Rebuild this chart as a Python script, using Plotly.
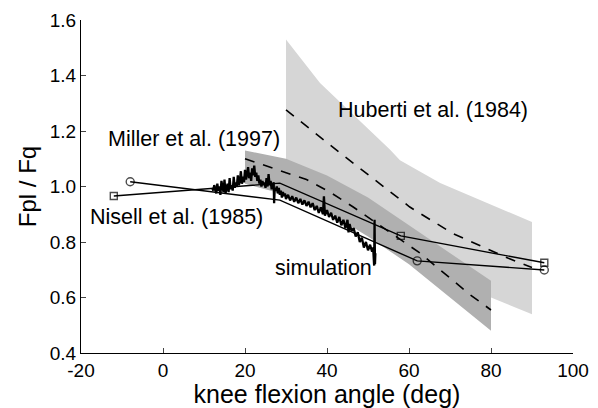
import plotly.graph_objects as go

# ---- data ----
# Huberti et al. (1984) band and mean
hub_up_x = [30, 38.3, 55.4, 57.8, 67.6, 77.3, 90]
hub_up_y = [1.53, 1.373, 1.132, 1.095, 1.013, 0.951, 0.872]
hub_lo_x = [30, 43, 60, 70, 80, 90]
hub_lo_y = [1.02, 0.94, 0.77, 0.67, 0.60, 0.54]
hub_mean_x = [30, 43.2, 60.2, 70.5, 84.1, 90]
hub_mean_y = [1.276, 1.121, 0.926, 0.832, 0.742, 0.708]

# Miller et al. (1997) band and mean
mil_up_x = [20, 30, 40, 50, 60, 70, 80]
mil_up_y = [1.13, 1.10, 1.04, 0.96, 0.86, 0.76, 0.66]
mil_lo_x = [20, 30, 40, 50, 60, 70, 80]
mil_lo_y = [1.01, 0.97, 0.91, 0.82, 0.72, 0.60, 0.48]
mil_mean_x = [20, 29, 35, 40.7, 46.3, 62.7, 69.3, 74.9, 80]
mil_mean_y = [1.10, 1.055, 1.025, 0.98, 0.927, 0.76, 0.68, 0.61, 0.555]

# circle-marked data
circ_x = [-8, 28.5, 62, 93]
circ_y = [1.017, 0.951, 0.732, 0.699]
circ_size = [8, 0, 8, 8]

# square-marked data
sq_x = [-12, 28.5, 58, 93]
sq_y = [0.966, 1.012, 0.822, 0.725]
sq_size = [7, 0, 7, 7]

# simulation
sim_x = [12.00, 12.25, 12.50, 12.75, 13.00, 13.25, 13.50, 13.75, 14.00, 14.25,
         14.50, 14.75, 15.00, 15.25, 15.50, 15.75, 16.00, 16.25, 16.50, 16.75,
         17.00, 17.25, 17.50, 17.75, 18.00, 18.25, 18.50, 18.75, 19.00, 19.25,
         19.50, 19.75, 20.00, 20.25, 20.50, 20.75, 21.00, 21.25, 21.50, 21.75,
         22.00, 22.25, 22.50, 22.75, 23.00, 23.25, 23.50, 23.75, 24.00, 24.25,
         24.50, 24.75, 25.00, 25.25, 25.50, 25.75, 26.00, 26.25, 26.50, 26.75,
         27.00, 27.10, 27.25, 27.50, 27.75, 28.00, 28.25, 28.50, 28.75, 29.00,
         29.25, 29.50, 29.75, 30.00, 30.50, 31.00, 31.50, 32.00, 32.50, 33.00,
         33.50, 34.00, 34.50, 35.00, 35.50, 36.00, 36.50, 37.00, 37.50, 38.00,
         38.50, 39.00, 39.25, 39.50, 40.00, 40.50, 41.00, 41.50, 42.00, 42.50,
         43.00, 43.50, 44.00, 44.50, 45.00, 45.25, 45.50, 46.00, 46.50, 47.00,
         47.50, 48.00, 48.50, 49.00, 49.50, 50.00, 50.50, 51.00, 51.25, 51.50,
         51.60, 51.70, 51.80]
sim_y = [0.995, 0.985, 1.005, 0.990, 0.975, 1.010, 0.985, 1.000, 0.970, 1.020,
         0.990, 0.980, 1.025, 0.975, 0.995, 1.010, 0.980, 1.030, 0.990, 1.005,
         0.985, 1.035, 0.995, 1.015, 1.000, 1.040, 1.005, 1.020, 1.055, 1.010,
         1.035, 1.015, 1.060, 1.025, 1.045, 1.070, 1.030, 1.050, 1.020, 1.065,
         1.040, 1.075, 1.035, 1.050, 1.020, 1.040, 1.010, 1.025, 1.000, 1.020,
         1.005, 1.015, 0.995, 1.030, 1.000, 1.045, 1.005, 1.020, 0.990, 1.010,
         1.015, 0.940, 0.995, 0.985, 1.000, 0.975, 0.995, 0.970, 0.985, 0.960,
         0.980, 0.965, 0.975, 0.955, 0.970, 0.950, 0.965, 0.945, 0.960, 0.940,
         0.955, 0.935, 0.950, 0.930, 0.945, 0.925, 0.940, 0.915, 0.930, 0.905,
         0.925, 0.900, 0.965, 0.895, 0.915, 0.890, 0.905, 0.880, 0.895, 0.870,
         0.890, 0.860, 0.880, 0.850, 0.880, 0.835, 0.865, 0.840, 0.850, 0.820,
         0.835, 0.800, 0.815, 0.780, 0.800, 0.770, 0.790, 0.765, 0.780, 0.715,
         0.880, 0.720, 0.760]

x_ticks = [-20, 0, 20, 40, 60, 80, 100]
x_tick_text = ["-20", "0", "20", "40", "60", "80", "100"]
y_ticks = [0.4, 0.6, 0.8, 1.0, 1.2, 1.4, 1.6]
y_tick_text = ["0.4", "0.6", "0.8", "1.0", "1.2", "1.4", "1.6"]

FONT = "Arial, Liberation Sans, Helvetica, sans-serif"

fig = go.Figure()

# Huberti band
fig.add_trace(go.Scatter(
    x=hub_up_x + hub_lo_x[::-1], y=hub_up_y + hub_lo_y[::-1],
    fill="toself", fillcolor="rgb(214,214,214)", line=dict(width=0),
    mode="lines", hoverinfo="skip", showlegend=False))
# Miller band
fig.add_trace(go.Scatter(
    x=mil_up_x + mil_lo_x[::-1], y=mil_up_y + mil_lo_y[::-1],
    fill="toself", fillcolor="rgb(176,176,176)", line=dict(width=0),
    mode="lines", hoverinfo="skip", showlegend=False))
# mean dashed lines
fig.add_trace(go.Scatter(x=hub_mean_x, y=hub_mean_y, mode="lines",
                         line=dict(color="black", width=1.6, dash="10px,9px"),
                         showlegend=False))
fig.add_trace(go.Scatter(x=mil_mean_x, y=mil_mean_y, mode="lines",
                         line=dict(color="black", width=1.6, dash="10px,9px"),
                         showlegend=False))
# data lines
fig.add_trace(go.Scatter(x=circ_x, y=circ_y, mode="lines+markers",
                         line=dict(color="black", width=1.4),
                         marker=dict(symbol="circle-open", size=circ_size,
                                     color="black", line=dict(width=1.4)),
                         showlegend=False))
fig.add_trace(go.Scatter(x=sq_x, y=sq_y, mode="lines+markers",
                         line=dict(color="black", width=1.4),
                         marker=dict(symbol="square-open", size=sq_size,
                                     color="black", line=dict(width=1.4)),
                         showlegend=False))
# simulation
fig.add_trace(go.Scatter(x=sim_x, y=sim_y, mode="lines",
                         line=dict(color="black", width=2.3),
                         showlegend=False))

ann_font = dict(family=FONT, size=21.5, color="black")
annots = [
    ("Huberti et al. (1984)", 42.2, 1.276),
    ("Miller et al. (1997)", -13.9, 1.171),
    ("Nisell et al. (1985)", -18.3, 0.891),
    ("simulation", 26.8, 0.706),
]
for txt, ax_, ay_ in annots:
    fig.add_annotation(x=ax_, y=ay_, text=txt, showarrow=False,
                       xanchor="left", yanchor="middle", font=ann_font)

fig.update_layout(
    width=598, height=408,
    margin=dict(l=81, r=25, t=20, b=55),
    plot_bgcolor="white", paper_bgcolor="white",
    font=dict(family=FONT, size=19, color="black"),
    xaxis=dict(range=[-20, 100], tickvals=x_ticks, ticktext=x_tick_text,
               ticks="inside", ticklen=5, automargin=False,
               showline=True, linecolor="black", linewidth=1.2, showgrid=False,
               zeroline=False, tickfont=dict(size=19),
               title=dict(text="knee flexion angle (deg)", font=dict(size=25),
                          standoff=11)),
    yaxis=dict(range=[0.4, 1.6], tickvals=y_ticks, ticktext=y_tick_text,
               ticks="inside", ticklen=5, automargin=False,
               showline=True, linecolor="black", linewidth=1.2, showgrid=False,
               zeroline=False, tickfont=dict(size=19),
               title=dict(text="Fpl / Fq", font=dict(size=24), standoff=6)),
)

fig.write_html("out.html")
